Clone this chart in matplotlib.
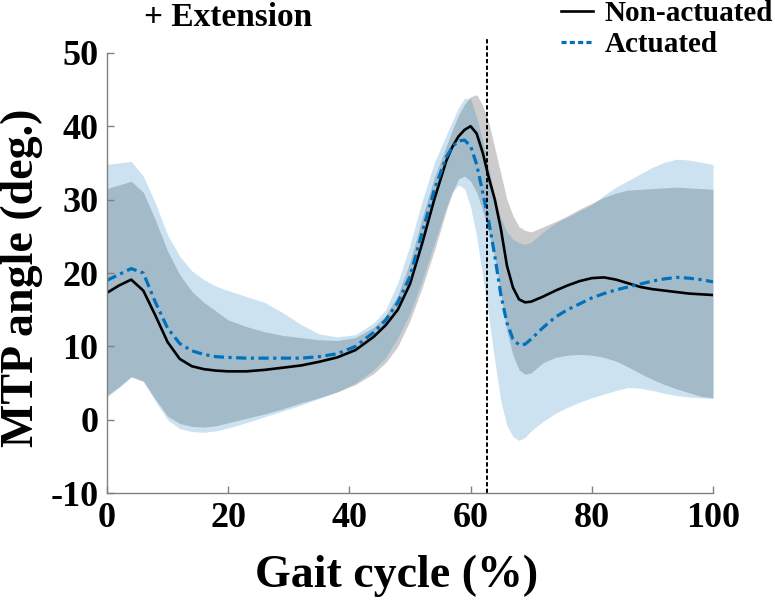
import matplotlib
matplotlib.use("Agg")
import matplotlib.pyplot as plt
from matplotlib.lines import Line2D

# -----------------------------
# data
# -----------------------------
gait = [0, 2, 4, 6, 8, 10, 12, 14, 16, 18,
        20, 23, 26, 29, 32, 35, 38, 41, 44, 46,
        48, 50, 52, 54, 56, 57, 58, 59, 60, 61,
        62, 63, 64, 65, 66, 67, 68, 69, 70, 72,
        74, 76, 78, 80, 82, 84, 86, 88, 90, 92,
        94, 96, 98, 100]

non_mean = [17.3, 18.3, 19.1, 17.6, 14.2, 10.6, 8.3, 7.3, 6.9, 6.7,
            6.6, 6.6, 6.8, 7.1, 7.4, 7.9, 8.5, 9.5, 11.3, 12.9,
            15.0, 18.5, 24.0, 30.0, 35.3, 37.2, 38.6, 39.5, 40.0, 39.0,
            36.4, 33.0, 30.0, 26.0, 21.0, 18.0, 16.4, 16.0, 16.1, 16.8,
            17.6, 18.3, 18.9, 19.3, 19.4, 19.1, 18.6, 18.1, 17.8, 17.6,
            17.4, 17.2, 17.1, 17.0]
non_upper = [31.5, 32.0, 32.5, 31.0, 27.2, 23.0, 19.8, 17.5, 16.0, 14.8,
             13.6, 12.7, 12.0, 11.5, 11.2, 10.9, 10.8, 11.2, 12.6, 14.2,
             17.0, 21.5, 27.5, 33.0, 37.3, 39.5, 41.5, 43.0, 44.0, 44.3,
             42.8, 40.5, 37.0, 33.5, 30.0, 27.8, 26.3, 25.8, 25.6, 26.3,
             27.0, 27.8, 28.7, 29.5, 30.3, 30.9, 31.3, 31.4, 31.5, 31.6,
             31.7, 31.6, 31.5, 31.4]
non_lower = [3.3, 4.5, 5.9, 5.3, 2.8, 0.5, -0.5, -0.9, -1.0, -0.8,
             -0.4, 0.2, 0.8, 1.5, 2.3, 3.0, 3.8, 4.8, 6.3, 7.8,
             10.0, 13.5, 18.0, 23.0, 28.5, 31.0, 32.8, 33.2, 32.5, 31.0,
             28.5, 25.5, 22.0, 17.0, 12.0, 8.8, 6.8, 6.2, 6.4, 7.8,
             8.5, 8.8, 8.9, 8.8, 8.5, 8.0, 7.2, 6.3, 5.5, 4.8,
             4.2, 3.7, 3.2, 3.0]

act_mean = [19.0, 19.8, 20.6, 20.0, 16.0, 12.5, 10.4, 9.4, 8.9, 8.6,
            8.5, 8.4, 8.4, 8.4, 8.4, 8.6, 9.0, 10.0, 11.9, 13.6,
            16.0, 19.5, 25.5, 31.3, 35.8, 37.2, 38.0, 38.1, 37.3, 34.8,
            31.0, 27.0, 22.3, 17.0, 13.2, 11.0, 10.2, 10.3, 11.0, 12.6,
            14.0, 15.0, 15.8, 16.6, 17.2, 17.7, 18.1, 18.5, 18.9, 19.2,
            19.4, 19.3, 19.1, 18.8]
act_upper = [34.8, 35.0, 35.2, 33.2, 29.5, 25.2, 22.3, 20.3, 19.1, 18.2,
             17.6, 16.8, 16.0, 14.6, 13.0, 11.7, 11.3, 11.6, 13.2, 15.0,
             18.7, 23.8, 29.8, 35.0, 38.8, 40.7, 42.5, 43.8, 43.8, 41.2,
             38.0, 34.3, 30.5, 27.5, 25.6, 24.6, 24.1, 23.9, 24.2, 25.6,
             26.8, 27.6, 28.5, 29.3, 30.6, 31.7, 32.6, 33.5, 34.4, 35.1,
             35.5, 35.4, 35.1, 34.8]
act_lower = [3.1, 4.4, 5.8, 5.2, 2.5, 0.0, -1.2, -1.6, -1.7, -1.5,
             -1.1, -0.4, 0.4, 1.2, 2.0, 2.9, 3.8, 5.0, 6.8, 8.5,
             11.2, 14.5, 19.0, 24.0, 29.0, 31.0, 32.0, 31.5, 29.0, 25.0,
             19.5, 14.0, 8.0, 2.5, -0.8, -2.3, -2.8, -2.4, -1.5, -0.2,
             0.9, 1.7, 2.4, 3.0, 3.5, 4.0, 4.4, 4.3, 4.0, 3.6,
             3.3, 3.1, 3.0, 2.9]

toe_off = 62.7
x_ticks = [0, 20, 40, 60, 80, 100]
y_ticks = [-10, 0, 10, 20, 30, 40, 50]

BLUE = "#0072BD"
SPINE = "#808080"

plt.rcParams["font.family"] = ["Liberation Serif", "DejaVu Serif"]
plt.rcParams["font.weight"] = "bold"
plt.rcParams["axes.unicode_minus"] = False

fig = plt.figure(figsize=(7.75, 6.0), dpi=100)
ax = fig.add_axes([0.138, 0.178, 0.782, 0.734])

# shaded SD bands
ax.fill_between(gait, non_lower, non_upper, color="#cccccc", lw=0)
ax.fill_between(gait, act_lower, act_upper, color=BLUE, alpha=0.2, lw=0)

# means
ax.plot(gait, non_mean, color="black", lw=1.9, solid_joinstyle="round")
ax.plot(gait, act_mean, color=BLUE, lw=2.3, dashes=(3.2, 1.4, 1.0, 1.4))

# toe-off line
ax.plot([toe_off, toe_off], [-10, 52], color="black", lw=1.4,
        dashes=(2.2, 1.2), clip_on=False)

ax.set_xlim(0, 100)
ax.set_ylim(-10, 50)
ax.set_xticks(x_ticks)
ax.set_yticks(y_ticks)

for s in ["top", "right"]:
    ax.spines[s].set_visible(False)
for s in ["left", "bottom"]:
    ax.spines[s].set_color(SPINE)
    ax.spines[s].set_linewidth(1.0)

ax.tick_params(axis="both", direction="in", length=5,
               color=SPINE, width=1.0, labelsize=26, pad=6)

ax.set_xlabel("Gait cycle (%)", fontsize=33, fontweight="bold")
ax.set_ylabel("MTP angle (deg.)", fontsize=33, fontweight="bold")
ax.xaxis.set_label_coords(0.478, -0.14)
ax.yaxis.set_label_coords(-0.105, 0.49)

ax.text(20, 54.8, "+ Extension", fontsize=24, fontweight="bold",
        ha="center", va="center", clip_on=False)

handles = [Line2D([], [], color="black", lw=1.9),
           Line2D([], [], color=BLUE, lw=2.3, dashes=(1.6, 1.0))]
fig.legend(handles, ["Non-actuated", "Actuated"], loc="upper left",
           bbox_to_anchor=(0.724, 1.0), frameon=False, fontsize=21,
           handlelength=1.1, handletextpad=0.4, labelspacing=0.15,
           borderpad=0, borderaxespad=0)

fig.savefig("out.png", dpi=100)
